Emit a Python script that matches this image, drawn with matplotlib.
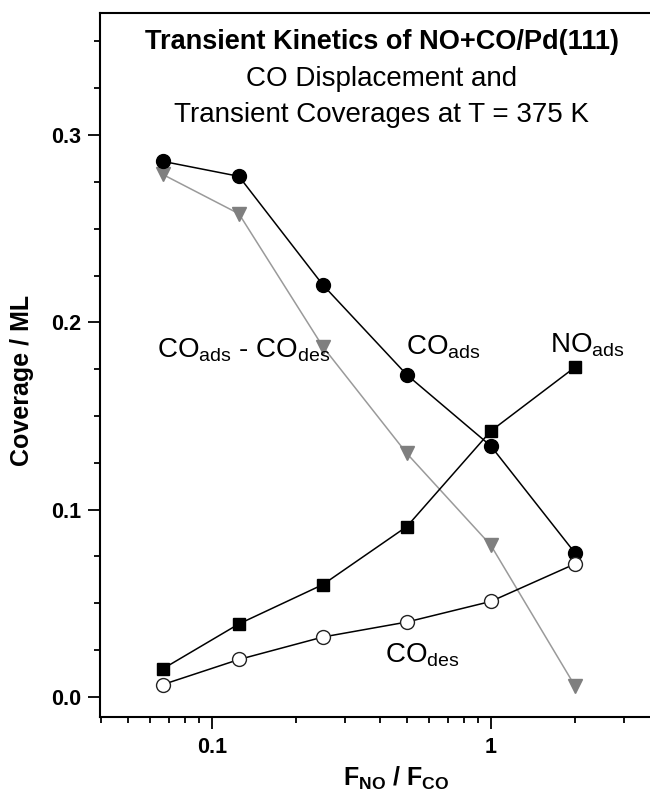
import numpy as np
import matplotlib
matplotlib.use("Agg")
import matplotlib.pyplot as plt

plt.rcParams['font.family'] = ['Liberation Sans', 'DejaVu Sans']
plt.rcParams['mathtext.fontset'] = 'custom'
plt.rcParams['mathtext.rm'] = 'Liberation Sans'
plt.rcParams['mathtext.bf'] = 'Liberation Sans:bold'
plt.rcParams['mathtext.it'] = 'Liberation Sans:italic'

# NO/CO flux ratio and transient coverages (ML)
ratio = [1 / 15, 0.125, 0.25, 0.5, 1.0, 2.0]
co_ads = [0.286, 0.278, 0.220, 0.172, 0.134, 0.077]
co_ads_minus_des = [0.279, 0.258, 0.187, 0.130, 0.081, 0.006]
no_ads = [0.015, 0.039, 0.060, 0.091, 0.142, 0.176]
co_des = [0.0066, 0.020, 0.032, 0.040, 0.051, 0.071]

fig = plt.figure(figsize=(6.5, 7.94), dpi=100)
ax = fig.add_axes([0.1538, 0.0970, 0.8462, 0.8866])

ax.plot(ratio, co_ads_minus_des, '-v', color='#9a9a9a', mfc='#7f7f7f', mec='#7f7f7f', lw=1.1, ms=10)
ax.plot(ratio, co_ads, '-o', color='black', lw=1.1, ms=10)
ax.plot(ratio, no_ads, '-s', color='black', lw=1.1, ms=8.5)
ax.plot(ratio, co_des, '-o', color='black', mfc='white', mec='#222222', mew=1.0, lw=1.1, ms=10)

ax.set_xscale('log')
ax.set_xlim(0.0397, 3.72)
ax.set_ylim(-0.0107, 0.3652)
ax.set_yticks([0.0, 0.1, 0.2, 0.3])
ax.set_yticklabels(['0.0', '0.1', '0.2', '0.3'])
ax.set_yticks(np.arange(0.025, 0.36, 0.025)[[0, 1, 2, 4, 5, 6, 8, 9, 10, 12, 13]], minor=True)
ax.set_xticks([0.1, 1])
ax.set_xticklabels(['0.1', '1'])

for lab in ax.get_xticklabels() + ax.get_yticklabels():
    lab.set_fontweight('bold')
ax.tick_params(which='major', length=8.6, width=1.3, labelsize=15.5, pad=5)
ax.tick_params(which='minor', length=4.5, width=1.3)
ax.tick_params(axis='x', which='major', pad=6)

ax.spines['right'].set_visible(False)
for s in ['left', 'bottom', 'top']:
    ax.spines[s].set_linewidth(1.5)

fig.text(22 / 650, 1 - 380 / 794, 'Coverage / ML', rotation=90, fontsize=18,
         fontweight='bold', ha='center', va='center')
fig.text(396 / 650, 1 - 778 / 794, r'$\mathbf{F_{NO}\ /\ F_{CO}}$', fontsize=18,
         ha='center', va='center')

fig.text(382 / 650, 1 - 42 / 794, 'Transient Kinetics of NO+CO/Pd(111)', fontsize=19.5,
         fontweight='bold', ha='center', va='center')
fig.text(382 / 650, 1 - 79 / 794, 'CO Displacement and', fontsize=20, ha='center', va='center')
fig.text(382 / 650, 1 - 115 / 794, 'Transient Coverages at T = 375 K', fontsize=20,
         ha='center', va='center')

ax.text(0.0635, 0.1813, r'CO$_{\mathrm{ads}}$ - CO$_{\mathrm{des}}$', fontsize=20, ha='left', va='baseline')
ax.text(0.496, 0.1829, r'CO$_{\mathrm{ads}}$', fontsize=20, ha='left', va='baseline')
ax.text(1.627, 0.184, r'NO$_{\mathrm{ads}}$', fontsize=20, ha='left', va='baseline')
ax.text(0.417, 0.0182, r'CO$_{\mathrm{des}}$', fontsize=20, ha='left', va='baseline')

fig.savefig('out.png', dpi=100)
